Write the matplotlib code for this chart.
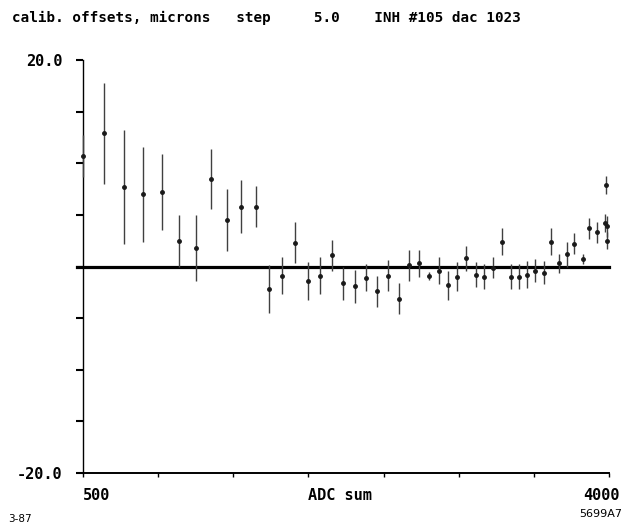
import matplotlib
matplotlib.use("Agg")
import matplotlib.pyplot as plt
import matplotlib.transforms as mtransforms
import numpy as np

# ---------------------------------------------------------
# DATA
# ---------------------------------------------------------

adc_sum = [500, 640, 775, 901, 1023, 1139, 1250, 1352, 1456, 1549,
           1651, 1740, 1826, 1911, 2000, 2078, 2155, 2232, 2308, 2385,
           2458, 2529, 2603, 2667, 2738, 2805, 2869, 2931, 2986, 3049,
           3113, 3170, 3230, 3290, 3350, 3401, 3456, 3510, 3568, 3616,
           3668, 3719, 3767, 3827, 3869, 3918, 3973, 3984, 3984, 3980]

offset = [10.7, 12.9, 7.7, 7.0, 7.2, 2.5, 1.8, 8.5, 4.5, 5.8,
          5.8, -2.2, -0.9, 2.3, -1.4, -0.9, 1.1, -1.6, -1.9, -1.1,
          -2.4, -0.9, -3.1, 0.1, 0.3, -0.9, -0.4, -1.8, -1.0, 0.8,
          -0.8, -1.0, -0.1, 2.4, -1.0, -1.0, -0.8, -0.4, -0.6, 2.4,
          0.3, 1.2, 2.2, 0.7, 3.7, 3.3, 4.2, 3.9, 2.5, 7.9]

error = [2.0, 4.9, 5.5, 4.6, 3.7, 2.5, 3.2, 2.9, 3.0, 2.6,
         2.0, 2.3, 1.8, 2.0, 1.8, 1.8, 1.5, 1.6, 1.6, 1.3,
         1.5, 1.5, 1.5, 1.5, 1.3, 0.4, 1.3, 1.4, 1.4, 1.2,
         1.2, 1.2, 1.0, 1.3, 1.2, 1.2, 1.3, 1.1, 1.1, 1.3,
         0.9, 1.2, 1.0, 0.5, 1.0, 1.0, 0.9, 1.0, 0.8, 0.9]

yticks = [-20, -15, -10, -5, 0, 5, 10, 15, 20]
ytick_labels = ["-20.0", "", "", "", "", "", "", "", "20.0"]
xticks = [500, 1000, 1500, 2000, 2500, 3000, 3500, 4000]
xtick_labels = ["500", "", "", "ADC sum", "", "", "", "4000"]

title = "calib. offsets, microns   step     5.0    INH #105 dac 1023"

# ---------------------------------------------------------
# PLOT
# ---------------------------------------------------------

mono = "DejaVu Sans Mono"

fig = plt.figure(figsize=(6.28, 5.25), dpi=100)
ax = fig.add_axes([83 / 628, 1 - 473 / 525, 526 / 628, 413 / 525])

ax.set_xlim(500, 4000)
ax.set_ylim(-20, 20)

# zero line, sticking out a little left of the axis
ax.plot([460, 4000], [0, 0], color="black", lw=2.3, clip_on=False, zorder=2)

ax.errorbar(adc_sum, offset, yerr=error, fmt="o", ms=2.5,
            color="0.1", ecolor="0.25", elinewidth=1.0, capsize=0,
            clip_on=False, zorder=3)

for side in ["top", "right"]:
    ax.spines[side].set_visible(False)
ax.spines["left"].set_linewidth(1.0)
ax.spines["bottom"].set_linewidth(1.4)

ax.set_yticks(yticks)
ax.set_yticklabels(ytick_labels, family=mono, fontweight="bold", fontsize=11)
ax.tick_params(axis="y", direction="out", length=5, width=1.5, pad=10)

ax.set_xticks(xticks)
ax.set_xticklabels(xtick_labels, family=mono, fontweight="bold", fontsize=11)
ax.tick_params(axis="x", direction="out", length=3, width=1.0, pad=8)

xlabs = ax.get_xticklabels()
xlabs[0].set_horizontalalignment("left")
xlabs[3].set_horizontalalignment("left")
xlabs[-1].set_horizontalalignment("center")
xlabs[-1].set_transform(xlabs[-1].get_transform() +
                        mtransforms.ScaledTranslation(-8 / 100, 0, fig.dpi_scale_trans))

fig.text(12 / 628, 1 - 18 / 525, title, family=mono, fontweight="bold",
         fontsize=10.3, ha="left", va="center")

fig.text(8 / 628, 1 - 519 / 525, "3-87", fontsize=7.5, ha="left", va="center")
fig.text(622 / 628, 1 - 514 / 525, "5699A7", fontsize=8, ha="right", va="center")

plt.savefig("out.png", dpi=100)
plt.close()
